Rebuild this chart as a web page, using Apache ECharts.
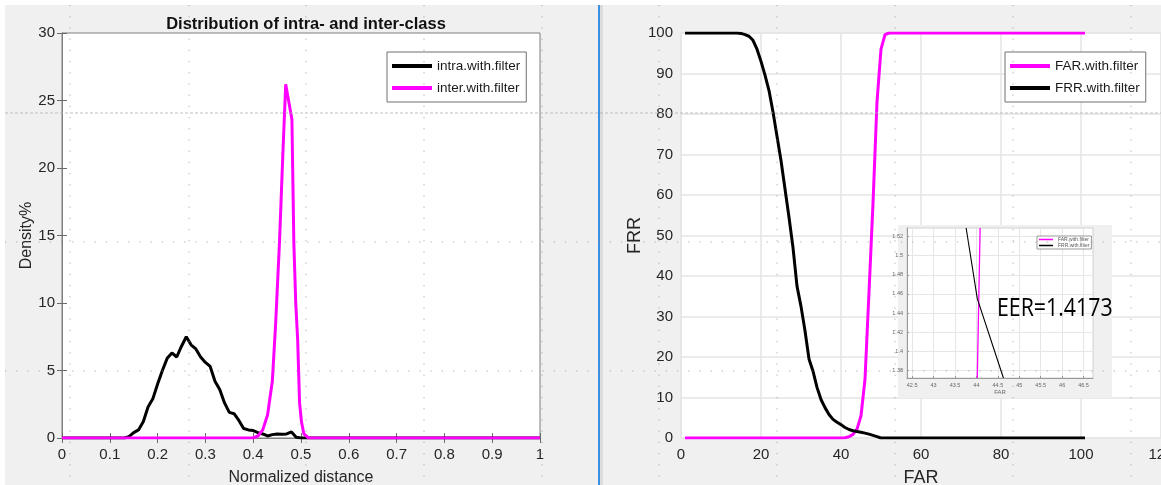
<!DOCTYPE html>
<html><head><meta charset="utf-8">
<script src="https://cdn.jsdelivr.net/npm/echarts@6/dist/echarts.min.js"></script>
<style>html,body{margin:0;padding:0;background:#fff}#c{width:1161px;height:485px}</style>
</head><body><div id="c"></div>
<script>
// ---- Data ----
const leftTitle = 'Distribution of intra- and inter-class';
const intraX = [0,0.13,0.14,0.15,0.16,0.17,0.18,0.19,0.20,0.21,0.22,0.23,0.24,0.25,0.26,0.27,0.28,0.29,0.30,0.31,0.32,0.33,0.34,0.35,0.36,0.37,0.38,0.39,0.40,0.41,0.42,0.43,0.44,0.45,0.46,0.47,0.48,0.49,0.50,1.0];
const intraY = [0,0,0.1,0.4,0.6,1.2,2.3,2.9,4.0,5.0,5.9,6.3,6.0,6.8,7.5,6.9,6.6,6.0,5.6,5.3,4.2,3.6,2.6,1.9,1.8,1.3,0.7,0.6,0.55,0.4,0.3,0.15,0.25,0.3,0.28,0.3,0.45,0.05,0,0];
const interX = [0,0.40,0.41,0.42,0.43,0.44,0.447,0.455,0.462,0.468,0.475,0.481,0.485,0.489,0.493,0.497,0.501,0.506,0.516,1.0];
const interY = [0,0,0.15,0.6,1.7,4.2,8.5,14.5,21,26.2,24.8,23.6,14.5,10,7.3,2.6,1.2,0.3,0,0];

const farX = [1,40,41,42,43,44,45,46,47,48,49,50,51,52,101];
const farY = [0,0,0.05,0.3,0.9,2.2,5.5,14.5,36,58,83,96,99.6,100,100];
const frrX = [1,14,15,16,17,18,19,20,21,22,23,24,25,26,27,28,29,30,31,32,33,34,35,36,37,38,39,40,41,42,43,44,45,46,47,48,49,50,101];
const frrY = [100,100,99.9,99.6,99.2,98.2,96,93,89.6,85.8,80.5,74.5,68.5,61.5,54.5,47,37.5,32.5,26.5,19.5,16.5,12.5,9.5,7.5,5.8,4.6,3.9,3.3,2.6,2.1,1.8,1.6,1.4,1.2,0.95,0.65,0.35,0,0];

const insetFarX = [44.086, 44.02];
const insetFarY = [1.529, 1.372];
const insetFrrX = [43.76, 44.02, 44.63];
const insetFrrY = [1.529, 1.455, 1.372];
const insetXTicks = [42.5,43,43.5,44,44.5,45,45.5,46,46.5];
const insetYTicks = [1.38,1.4,1.42,1.44,1.46,1.48,1.5,1.52];
const eerText = 'EER=1.4173';

const leftNames = ['intra.with.filter','inter.with.filter'];
const rightNames = ['FAR.with.filter','FRR.with.filter'];

// ---- Styling ----
const FONT = '"Liberation Sans", Arial, Helvetica, sans-serif';
const TXT = '#262626';
const MAG = '#ff00ff';
const pair = (xs, ys) => xs.map((x, i) => [x, ys[i]]);

const chart = echarts.init(document.getElementById('c'), null, {renderer: 'canvas'});

const legendBase = {
  orient: 'vertical', icon: 'rect', itemWidth: 40, itemHeight: 4, itemGap: 8,
  textStyle: {fontFamily: FONT, fontSize: 13.5, color: '#1a1a1a'},
  backgroundColor: '#fff', borderColor: '#707070', borderWidth: 1, borderRadius: 0,
  padding: [7, 6, 7, 5], selectedMode: false
};

const overlayX = [70,189,306,424,542,659,777,895,1013,1131];
const overlayG = [];
overlayX.forEach(x => overlayG.push({type:'line', z:100, silent:true,
  shape:{x1:x, y1:5, x2:x, y2:485}, style:{stroke:'#8c8c8c', lineWidth:1, lineDash:[1.2,10], opacity:0.7}}));
overlayG.push({type:'line', z:100, silent:true, shape:{x1:5,y1:113,x2:1161,y2:113}, style:{stroke:'#b0b0b0', lineWidth:1, lineDash:[3,2], opacity:0.8}});
[242, 371].forEach(y => overlayG.push({type:'line', z:100, silent:true,
  shape:{x1:5, y1:y, x2:1161, y2:y}, style:{stroke:'#8c8c8c', lineWidth:1, lineDash:[1.2,10], opacity:0.7}}));

const option = {
  backgroundColor: '#f0f0f0',
  animation: false,
  title: {
    text: leftTitle, left: 301, top: 11, textAlign: 'center',
    textStyle: {fontFamily: FONT, fontWeight: 'bold', fontSize: 16.5, color: '#111'}
  },
  legend: [
    Object.assign({}, legendBase, {data: leftNames, left: 387, top: 52}),
    Object.assign({}, legendBase, {data: rightNames, left: 1005, top: 52}),
    Object.assign({}, legendBase, {data: rightNames, left: 1037, top: 236, itemWidth: 14, itemHeight: 1.5,
      itemGap: 1, padding: [1, 2, 1, 2], borderColor: '#999', z: 9,
      textStyle: {fontFamily: FONT, fontSize: 5, color: '#555'}})
  ],
  grid: [
    {left: 62, right: 621, top: 33, bottom: 47, show: true, backgroundColor: '#fff', borderColor: '#7f7f7f', borderWidth: 1, outerBoundsMode: 'none'},
    {left: 681, right: 0, top: 33, bottom: 47, show: true, backgroundColor: '#fff', borderColor: '#e2e2e2', borderWidth: 1, outerBoundsMode: 'none'},
    {left: 907, right: 68, top: 228, bottom: 107, show: true, backgroundColor: '#fff', borderColor: '#d0d0d0', borderWidth: 1, z: 6, outerBoundsMode: 'none'}
  ],
  xAxis: [
    {type: 'value', gridIndex: 0, position: 'bottom', min: 0, max: 1, interval: 0.1,
     axisLine: {show: true, lineStyle: {color: '#7f7f7f'}},
     axisTick: {show: true, inside: true, length: 5, lineStyle: {color: '#6a6a6a'}},
     axisLabel: {fontFamily: FONT, fontSize: 15, color: TXT, margin: 9},
     splitLine: {show: false},
     name: 'Normalized distance', nameLocation: 'middle', nameGap: 32,
     nameTextStyle: {fontFamily: FONT, fontSize: 16, color: TXT}},
    {type: 'value', gridIndex: 0, position: 'top', min: 0, max: 1, interval: 0.1,
     axisLine: {show: true, lineStyle: {color: '#7f7f7f'}},
     axisTick: {show: true, inside: true, length: 5, lineStyle: {color: '#6a6a6a'}},
     axisLabel: {show: false}, splitLine: {show: false}},
    {type: 'value', gridIndex: 1, position: 'bottom', min: 0, max: 120, interval: 20,
     axisLine: {show: false}, axisTick: {show: false},
     axisLabel: {fontFamily: FONT, fontSize: 15, color: TXT, margin: 9},
     splitLine: {show: true, lineStyle: {color: '#e4e4e4', width: 1.5}},
     name: 'FAR', nameLocation: 'middle', nameGap: 31,
     nameTextStyle: {fontFamily: FONT, fontSize: 18, color: TXT}},
    {type: 'value', gridIndex: 2, position: 'bottom', min: 42.38, max: 46.72, z: 7,
     axisLine: {show: true, lineStyle: {color: '#999'}},
     axisTick: {show: true, inside: true, length: 2, customValues: insetXTicks, lineStyle: {color: '#999'}},
     axisLabel: {fontFamily: FONT, fontSize: 5.5, color: '#666', margin: 4, customValues: insetXTicks},
     splitLine: {show: true, lineStyle: {color: '#e6e6e6', width: 1}},
     name: 'FAR', nameLocation: 'middle', nameGap: 11,
     nameTextStyle: {fontFamily: FONT, fontSize: 6, color: '#666'}}
  ],
  yAxis: [
    {type: 'value', gridIndex: 0, position: 'left', min: 0, max: 30, interval: 5,
     axisLine: {show: true, lineStyle: {color: '#7f7f7f'}},
     axisTick: {show: true, inside: true, length: 5, lineStyle: {color: '#6a6a6a'}},
     axisLabel: {fontFamily: FONT, fontSize: 15, color: TXT, margin: 7},
     splitLine: {show: false},
     name: 'Density%', nameLocation: 'middle', nameGap: 22, nameRotate: 90,
     nameTextStyle: {fontFamily: FONT, fontSize: 16, color: TXT}},
    {type: 'value', gridIndex: 0, position: 'right', min: 0, max: 30, interval: 5,
     axisLine: {show: true, lineStyle: {color: '#7f7f7f'}},
     axisTick: {show: true, inside: true, length: 5, lineStyle: {color: '#6a6a6a'}},
     axisLabel: {show: false}, splitLine: {show: false}},
    {type: 'value', gridIndex: 1, position: 'left', min: 0, max: 100, interval: 10,
     axisLine: {show: false}, axisTick: {show: false},
     axisLabel: {fontFamily: FONT, fontSize: 15, color: TXT, margin: 8},
     splitLine: {show: true, lineStyle: {color: '#e4e4e4', width: 1.5}},
     name: 'FRR', nameLocation: 'middle', nameGap: 32, nameRotate: 90,
     nameTextStyle: {fontFamily: FONT, fontSize: 18, color: TXT}},
    {type: 'value', gridIndex: 2, position: 'left', min: 1.372, max: 1.529, z: 7,
     axisLine: {show: true, lineStyle: {color: '#999'}},
     axisTick: {show: true, inside: true, length: 2, customValues: insetYTicks, lineStyle: {color: '#999'}},
     axisLabel: {fontFamily: FONT, fontSize: 5.5, color: '#666', margin: 4, customValues: insetYTicks},
     splitLine: {show: true, lineStyle: {color: '#e6e6e6', width: 1}}}
  ],
  series: [
    {name: leftNames[0], type: 'line', xAxisIndex: 0, yAxisIndex: 0, data: pair(intraX, intraY),
     symbol: 'none', color: '#000', lineStyle: {color: '#000', width: 3}, z: 2},
    {name: leftNames[1], type: 'line', xAxisIndex: 0, yAxisIndex: 0, data: pair(interX, interY),
     symbol: 'none', color: MAG, lineStyle: {color: MAG, width: 3}, z: 3},
    {name: rightNames[0], type: 'line', xAxisIndex: 2, yAxisIndex: 2, data: pair(farX, farY),
     symbol: 'none', color: MAG, lineStyle: {color: MAG, width: 3}, z: 2},
    {name: rightNames[1], type: 'line', xAxisIndex: 2, yAxisIndex: 2, data: pair(frrX, frrY),
     symbol: 'none', color: '#000', lineStyle: {color: '#000', width: 3}, z: 3},
    {name: rightNames[0], type: 'line', xAxisIndex: 3, yAxisIndex: 3, data: pair(insetFarX, insetFarY),
     symbol: 'none', color: MAG, lineStyle: {color: MAG, width: 1.3}, z: 8, clip: true},
    {name: rightNames[1], type: 'line', xAxisIndex: 3, yAxisIndex: 3, data: pair(insetFrrX, insetFrrY),
     symbol: 'none', color: '#000', lineStyle: {color: '#000', width: 1.1}, z: 8, clip: true}
  ],
  graphic: [
    {type: 'rect', z: 1, silent: true, shape: {x: 0, y: 0, width: 1161, height: 5}, style: {fill: '#fff'}},
    {type: 'rect', z: 1, silent: true, shape: {x: 0, y: 0, width: 5, height: 485}, style: {fill: '#fff'}},
    {type: 'rect', z: 1, silent: true, shape: {x: 598, y: 5, width: 2, height: 480}, style: {fill: '#3b8fe0'}},
    {type: 'rect', z: 1, silent: true, shape: {x: 600, y: 5, width: 3, height: 480}, style: {fill: '#dcdcdc'}},
    {type: 'rect', z: 5, silent: true, shape: {x: 898, y: 225, width: 214, height: 173}, style: {fill: '#f0f0f0'}},
    {type: 'text', z: 50, silent: true, x: 997, y: 309, scaleX: 0.82,
     style: {text: eerText, x: 0, y: 0, verticalAlign: 'middle',
      font: '26px "Open Sans", sans-serif', fill: '#000'}}
  ].concat(overlayG)
};
chart.setOption(option);
</script>
</body></html>
